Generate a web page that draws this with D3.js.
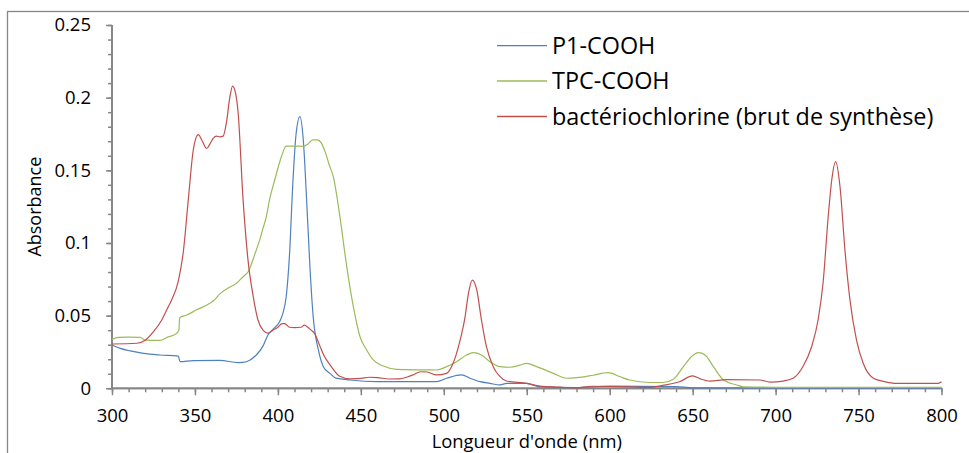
<!DOCTYPE html>
<html>
<head>
<meta charset="utf-8">
<script src="https://cdn.jsdelivr.net/npm/d3@7/dist/d3.min.js"></script>
<style>
  html, body { margin: 0; padding: 0; background: #fff; }
  svg { display: block; }
  text { font-family: "Open Sans", "Noto Sans", sans-serif; fill: #000; }
</style>
</head>
<body>
<svg id="chart" width="969" height="453"></svg>
<script>
// ---- Data ----
const seriesNames = ["P1-COOH", "TPC-COOH", "bactériochlorine (brut de synthèse)"];

const wlP1 = [300, 305, 311, 319, 329, 340, 341, 349, 365, 376, 379, 383, 387, 391, 394, 397, 401, 403, 405, 407, 409, 411, 413.3, 415.3, 417.3, 419.3, 421.3, 424.4, 427.4, 431.4, 435, 443.5, 459.6, 495.6, 501.7, 510.8, 515.8, 521.8, 527.8, 533.9, 537.9, 550, 558, 580, 600, 640, 650, 700, 800];
const absP1 = [0.0298, 0.0275, 0.0257, 0.024, 0.0229, 0.0222, 0.0183, 0.019, 0.0192, 0.0177, 0.0178, 0.0193, 0.0229, 0.029, 0.0367, 0.0406, 0.0458, 0.0516, 0.063, 0.092, 0.141, 0.1755, 0.187, 0.171, 0.13, 0.0837, 0.049, 0.0264, 0.0149, 0.0103, 0.007, 0.0057, 0.0046, 0.0046, 0.0069, 0.0092, 0.0069, 0.0046, 0.0034, 0.0023, 0.0034, 0.0034, 0.001, 0.0005, 0.0015, 0.0012, 0.0003, 0.0002, 0.0002];

const wlTPC = [300, 304, 310, 317, 320, 329, 333, 339, 340.3, 340.8, 345, 351, 359, 362, 365, 370, 375, 379, 382, 386, 389, 391, 393, 395, 398, 402, 405, 410, 415.3, 418, 421, 424, 426, 429, 431, 433.4, 437.4, 441.5, 445.5, 449.5, 453.5, 457.5, 463.6, 471.6, 485, 495.5, 501.7, 507.7, 513.7, 517.8, 522.7, 527.8, 533.9, 540, 546, 550, 556, 566, 574, 580.2, 590, 599, 606, 612, 624, 632, 638.4, 644.4, 650.4, 653.5, 657.5, 662.5, 668.6, 676.6, 680.5, 700, 750, 800];
const absTPC = [0.0337, 0.035, 0.0352, 0.035, 0.0332, 0.033, 0.035, 0.0378, 0.040, 0.0486, 0.0504, 0.054, 0.0585, 0.061, 0.065, 0.069, 0.0722, 0.0768, 0.080, 0.092, 0.102, 0.11, 0.118, 0.13, 0.143, 0.159, 0.1667, 0.1667, 0.1665, 0.168, 0.171, 0.171, 0.169, 0.161, 0.1535, 0.1456, 0.118, 0.0837, 0.056, 0.0355, 0.0264, 0.0195, 0.0153, 0.013, 0.0127, 0.0126, 0.0149, 0.0183, 0.0229, 0.0245, 0.0229, 0.0183, 0.0149, 0.0145, 0.016, 0.0172, 0.0149, 0.0103, 0.0069, 0.0073, 0.009, 0.0108, 0.0081, 0.0057, 0.004, 0.004, 0.0062, 0.0149, 0.0229, 0.0245, 0.0229, 0.0149, 0.0057, 0.0023, 0.001, 0.0007, 0.0006, 0.0006];

const wlBact = [300, 315, 320, 325, 330, 333, 336, 340, 343, 346, 349, 352, 354.5, 357, 359, 361, 363, 365, 367, 369, 371, 372.7, 374.5, 376, 379, 382, 385, 388, 391, 394, 397, 400, 402.5, 404, 407, 410, 414, 416, 418, 420, 422, 425, 428, 431.5, 437, 443.5, 450, 455, 460, 467, 473, 478, 482, 486, 490, 495.5, 501.7, 505.6, 509.8, 512.8, 514.8, 517.2, 519.8, 522.7, 525.7, 529.8, 533.9, 537.7, 550, 558, 570, 578, 590, 612, 624, 632, 642, 650, 654.6, 660.5, 670.5, 690.6, 696.6, 704.6, 710.5, 716.5, 721.7, 725.6, 728.6, 731.7, 733.8, 736.2, 738.8, 741.8, 744.8, 748.8, 752.8, 758.9, 765, 773, 790, 798, 800];
const absBact = [0.0305, 0.031, 0.033, 0.039, 0.047, 0.054, 0.061, 0.074, 0.094, 0.13, 0.164, 0.1745, 0.170, 0.165, 0.168, 0.172, 0.1735, 0.173, 0.1735, 0.183, 0.200, 0.208, 0.203, 0.19, 0.13, 0.088, 0.064, 0.047, 0.040, 0.038, 0.040, 0.042, 0.0445, 0.0445, 0.042, 0.0417, 0.042, 0.0435, 0.042, 0.040, 0.038, 0.030, 0.022, 0.016, 0.0085, 0.0065, 0.0068, 0.0076, 0.0074, 0.0064, 0.0065, 0.0078, 0.0095, 0.0114, 0.0112, 0.0092, 0.0103, 0.0172, 0.033, 0.049, 0.065, 0.0745, 0.068, 0.047, 0.0286, 0.0149, 0.008, 0.005, 0.0034, 0.0015, 0.0008, 0.0002, 0.0014, 0.001, 0.0006, 0.002, 0.0045, 0.0085, 0.0065, 0.005, 0.006, 0.0057, 0.0043, 0.005, 0.0069, 0.015, 0.0286, 0.047, 0.0723, 0.118, 0.143, 0.156, 0.139, 0.095, 0.061, 0.033, 0.0172, 0.0069, 0.0048, 0.0034, 0.0034, 0.0034, 0.0045];

const xTickValues = [300, 350, 400, 450, 500, 550, 600, 650, 700, 750, 800];
const xTickLabels = ["300", "350", "400", "450", "500", "550", "600", "650", "700", "750", "800"];
const yTickValues = [0, 0.05, 0.1, 0.15, 0.2, 0.25];
const yTickLabels = ["0", "0.05", "0.1", "0.15", "0.2", "0.25"];
const xTitle = "Longueur d'onde (nm)";
const yTitle = "Absorbance";

// ---- Drawing ----
const colors = ["#4F81BD", "#9BBB59", "#C0504D"];
const axisColor = "#868686";
const svg = d3.select("#chart");

// outer chart border (extends past the frame at right and bottom)
svg.append("rect")
  .attr("x", 7.5).attr("y", 11.5)
  .attr("width", 975).attr("height", 460)
  .attr("fill", "none").attr("stroke", axisColor).attr("stroke-width", 1.3);

const x = d3.scaleLinear().domain([300, 800]).range([112, 941.5]);
const y = d3.scaleLinear().domain([0, 0.25]).range([388.3, 25]);

// minor ticks
const xMinor = d3.range(300, 801, 10);
const yMinor = d3.range(0, 0.2501, 0.01);

const gxMinor = svg.append("g").attr("transform", `translate(0,${y(0)})`)
  .call(d3.axisBottom(x).tickValues(xMinor).tickSize(4).tickFormat(""));
const gyMinor = svg.append("g").attr("transform", `translate(${x(300)},0)`)
  .call(d3.axisLeft(y).tickValues(yMinor).tickSize(4).tickFormat(""));

const gx = svg.append("g").attr("transform", `translate(0,${y(0)})`)
  .call(d3.axisBottom(x).tickValues(xTickValues).tickSize(7).tickPadding(14)
    .tickFormat((d, i) => xTickLabels[i]));
const gy = svg.append("g").attr("transform", `translate(${x(300)},0)`)
  .call(d3.axisLeft(y).tickValues(yTickValues).tickSize(6).tickPadding(15)
    .tickFormat((d, i) => yTickLabels[i]));

[gxMinor, gyMinor, gx, gy].forEach(g => {
  g.selectAll("path.domain").attr("stroke", axisColor).attr("stroke-width", 1.8);
  g.selectAll(".tick line").attr("stroke", axisColor).attr("stroke-width", 1.5);
  g.selectAll(".tick text").attr("fill", "#000")
    .style("font-family", '"Open Sans", sans-serif').style("font-size", "18.5px");
});
gx.select("path.domain").attr("d", `M${x(300)},0H${x(800)}`);
gxMinor.select("path.domain").attr("d", `M${x(300)},0H${x(800)}`);
gy.select("path.domain").attr("d", `M0,${y(0)}V${y(0.25)}`);
gyMinor.select("path.domain").attr("d", `M0,${y(0)}V${y(0.25)}`);

// axis titles
svg.append("text")
  .attr("x", (x(300) + x(800)) / 2).attr("y", 447.5)
  .attr("text-anchor", "middle").style("font-size", "18.4px")
  .text(xTitle);
svg.append("text")
  .attr("transform", `translate(40.5,${(y(0) + y(0.25)) / 2}) rotate(-90)`)
  .attr("text-anchor", "middle").style("font-size", "18px")
  .text(yTitle);

// series lines
const series = [
  { wl: wlP1, abs: absP1 },
  { wl: wlTPC, abs: absTPC },
  { wl: wlBact, abs: absBact }
];
const line = d3.line().x(d => x(d[0])).y(d => y(d[1])).curve(d3.curveMonotoneX);
series.forEach((s, i) => {
  const pts = s.wl.map((w, k) => [w, s.abs[k]]);
  svg.append("path").datum(pts)
    .attr("d", line)
    .attr("fill", "none")
    .attr("stroke", colors[i])
    .attr("stroke-width", 1.2)
    .attr("stroke-linejoin", "round");
});

// legend
const legendY = [45.7, 81, 116.5];
seriesNames.forEach((name, i) => {
  svg.append("line")
    .attr("x1", 497).attr("x2", 547)
    .attr("y1", legendY[i]).attr("y2", legendY[i])
    .attr("stroke", colors[i]).attr("stroke-width", 1.3);
  svg.append("text")
    .attr("x", 552).attr("y", legendY[i] + 8.2)
    .style("font-size", "23.4px")
    .text(name);
});
</script>
</body>
</html>
